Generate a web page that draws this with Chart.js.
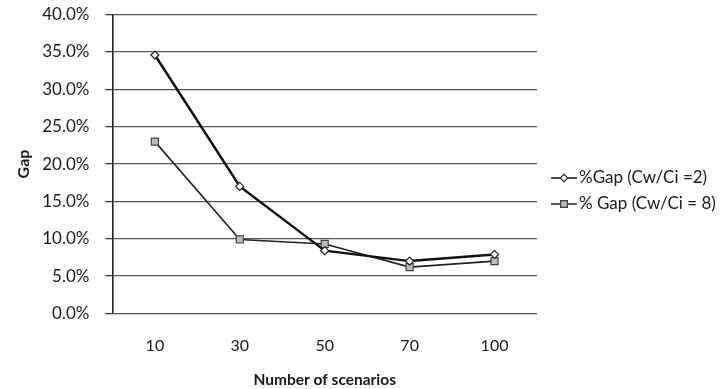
<!DOCTYPE html>
<html>
<head>
<meta charset="utf-8">
<script src="https://cdn.jsdelivr.net/npm/chart.js@4/dist/chart.umd.min.js"></script>
<style>
  html, body { margin: 0; padding: 0; background: #fff; }
  #wrap { width: 728px; height: 389px; }
</style>
</head>
<body>
<div id="wrap"><canvas id="chart" width="728" height="389"></canvas></div>
<script>
const scenarios = ['10', '30', '50', '70', '100'];
const gapCw2 = [34.6, 17.0, 8.4, 7.0, 7.9];
const gapCw8 = [23.0, 9.9, 9.3, 6.2, 7.0];
const seriesNames = ['%Gap (Cw/Ci =2)', '% Gap (Cw/Ci = 8)'];

const FONT = 'Lato, "Open Sans", sans-serif';

// Excel-style legend: short line with the marker in the middle, then the text
const sideLegend = {
  id: 'sideLegend',
  afterDraw(chart, args, opts) {
    const ctx = chart.ctx;
    ctx.save();
    chart.data.datasets.forEach((ds, i) => {
      const y = opts.top + i * opts.gap;
      const x0 = opts.left;
      ctx.strokeStyle = ds.borderColor;
      ctx.lineWidth = Math.min(ds.borderWidth, 1.5);
      ctx.beginPath();
      ctx.moveTo(x0, y);
      ctx.lineTo(x0 + opts.lineLen, y);
      ctx.stroke();
      Chart.helpers.drawPoint(ctx, {
        pointStyle: ds.pointStyle,
        radius: ds.pointRadius - 0.5,
        rotation: 0,
        borderWidth: 1
      }, x0 + opts.lineLen / 2, y);
      ctx.fillStyle = ds.pointBackgroundColor;
      ctx.strokeStyle = ds.pointBorderColor;
      ctx.lineWidth = 1;
      ctx.fill();
      ctx.stroke();
      ctx.fillStyle = '#1a1a1a';
      ctx.font = '17px ' + FONT;
      ctx.textBaseline = 'middle';
      ctx.textAlign = 'left';
      ctx.fillText(seriesNames[i], x0 + opts.lineLen + 2, y);
    });
    ctx.restore();
  }
};

new Chart(document.getElementById('chart'), {
  type: 'line',
  data: {
    labels: scenarios,
    datasets: [
      {
        label: seriesNames[0],
        data: gapCw2,
        borderColor: '#111',
        borderWidth: 2.5,
        pointStyle: 'rectRot',
        pointRadius: 4,
        pointBackgroundColor: '#fff',
        pointBorderColor: '#222',
        pointBorderWidth: 1.2,
        tension: 0
      },
      {
        label: seriesNames[1],
        data: gapCw8,
        borderColor: '#222',
        borderWidth: 1.6,
        pointStyle: 'rect',
        pointRadius: 5,
        pointBackgroundColor: '#bdbdbd',
        pointBorderColor: '#444',
        pointBorderWidth: 1.2,
        tension: 0
      }
    ]
  },
  options: {
    responsive: false,
    animation: false,
    layout: { padding: { left: 14, right: 191, top: 0, bottom: 0 } },
    plugins: {
      legend: { display: false },
      tooltip: { enabled: false },
      sideLegend: { left: 551, top: 178, gap: 26, lineLen: 26 }
    },
    scales: {
      x: {
        offset: true,
        grid: { display: false, tickLength: 8 },
        border: { display: false },
        ticks: { color: '#1a1a1a', font: { family: FONT, size: 16 }, padding: 14.4 },
        title: {
          display: true,
          text: 'Number of scenarios',
          color: '#1a1a1a',
          font: { family: FONT, size: 15.5, weight: 'bold' },
          padding: { top: 1, bottom: 0 }
        }
      },
      y: {
        min: 0,
        max: 40,
        ticks: {
          stepSize: 5,
          color: '#1a1a1a',
          font: { family: FONT, size: 17, lineHeight: 0.9 },
          padding: 7,
          callback: v => v.toFixed(1) + '%'
        },
        grid: {
          color: '#555',
          lineWidth: 1.3,
          tickLength: 16,
          tickColor: '#333',
          tickBorderDash: [0, 9, 7, 0]
        },
        border: { display: true, color: '#222', width: 1.6 },
        title: {
          display: true,
          text: 'Gap',
          color: '#1a1a1a',
          font: { family: FONT, size: 16, weight: 'bold' },
          padding: { top: 0, bottom: 2 }
        }
      }
    }
  },
  plugins: [sideLegend]
});
</script>
</body>
</html>
